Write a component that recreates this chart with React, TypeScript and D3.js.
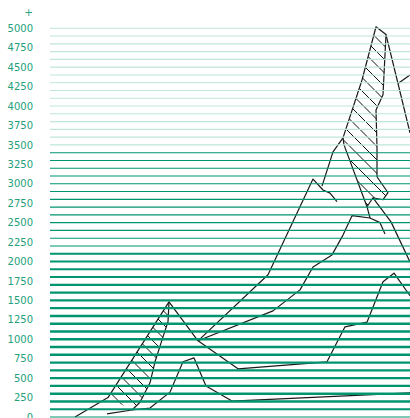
import React from 'react';
import * as d3 from 'd3';

// y-axis tick labels
const yTicks = [0, 250, 500, 750, 1000, 1250, 1500, 1750, 2000, 2250, 2500, 2750, 3000, 3250, 3500, 3750, 4000, 4250, 4500, 4750, 5000];
// horizontal rule values
const ruleValues = [0, 100, 200, 300, 400, 500, 600, 700, 800, 900, 1000, 1100, 1200, 1300, 1400, 1500, 1600, 1700, 1800, 1900, 2000, 2100, 2200, 2300, 2400, 2500, 2600, 2700, 2800, 2900, 3000, 3100, 3200, 3300, 3400, 3500, 3600, 3700, 3800, 3900, 4000, 4100, 4200, 4300, 4400, 4500, 4600, 4700, 4800, 4900, 5000];

// polylines: [x, value]
const outline: [number, number][] = [[25, 0], [58, 250], [119, 1480], [148, 980], [188, 620], [277, 710], [295, 1160], [317, 1220], [333, 1740], [344, 1850], [360, 1560]];
const lowerTrace: [number, number][] = [[57, 40], [82, 90], [100, 115], [120, 320], [133, 710], [144, 760], [156, 400], [182, 205], [360, 310]];
const ridgeB: [number, number][] = [[148, 980], [218, 1830], [263, 3060], [273, 2920], [280, 2880], [287, 2770]];
const ridgeC: [number, number][] = [[148, 980], [223, 1365], [250, 1635], [263, 1930], [282, 2085], [293, 2340], [302, 2590], [320, 2560], [330, 2500], [335, 2355]];
const connector: [number, number][] = [[272, 2970], [283, 3410], [293, 3590]];
const linkC: [number, number][] = [[317, 2705], [320, 2560]];
const descentD: [number, number][] = [[323, 2820], [341, 2510], [360, 1995]];
const longRight: [number, number][] = [[336, 4920], [348, 4290], [360, 3655]];
const shortRight: [number, number][] = [[348, 4290], [360, 4400]];
const lowerHatchEdge: [number, number][] = [[119, 1480], [118, 1225], [113, 1030], [105, 710], [100, 440], [90, 190], [82, 90]];
const lowerHatch: [number, number][] = [[58, 250], [119, 1480], [118, 1225], [113, 1030], [105, 710], [100, 440], [90, 190], [82, 90]];
const upperHatch: [number, number][] = [[326, 5020], [336, 4920], [333, 4145], [326, 3950], [327, 3460], [327, 3090], [338, 2885], [333, 2795], [323, 2820], [317, 2705], [294, 3500], [293, 3590], [312, 4335]];

const W = 410;
const H = 418;
const HATCH_STEP = 13.5;

export default function App() {
  const x = d3.scaleLinear().domain([0, 360]).range([50, 410]);
  const y = d3.scaleLinear().domain([0, 5000]).range([417, 28.3]);
  const line = d3.line<[number, number]>().x(d => x(d[0])).y(d => y(d[1]));
  const poly = (pts: [number, number][]) => line(pts) + 'Z';

  const ruleWidth = (v: number) => {
    if (v >= 2200) return 1.1;
    if (v >= 1800) return 1.9;
    if (v >= 200) return 2.4;
    if (v >= 100) return 1.8;
    return 1.1;
  };
  const ruleColor = (v: number) => (v >= 3500 ? '#bfe6d8' : '#00956f');

  const strokes = [outline, lowerTrace, ridgeB, ridgeC, connector, linkC, descentD, longRight, shortRight, lowerHatchEdge];

  // diagonal "\" hatch lines, offsets along y
  const hatchOffsets = d3.range(-460, 460, HATCH_STEP);
  const hatchLines = (id: string) => (
    <g clipPath={`url(#${id})`}>
      {hatchOffsets.map((c, i) => (
        <line key={i} x1={0} y1={c} x2={420} y2={c + 420} stroke="#111" strokeWidth={1} />
      ))}
    </g>
  );

  return (
    <svg width={W} height={H} style={{ position: 'absolute', left: 0, top: 0, background: '#fff' }}
      fontFamily="'DejaVu Sans', sans-serif">
      <defs>
        <clipPath id="plot">
          <rect x={50} y={0} width={360} height={H} />
        </clipPath>
        <clipPath id="hatchLow">
          <path d={poly(lowerHatch)} />
        </clipPath>
        <clipPath id="hatchUp">
          <path d={poly(upperHatch)} />
        </clipPath>
      </defs>
      <g clipPath="url(#plot)">
        {hatchLines('hatchLow')}
        {hatchLines('hatchUp')}
        <path d={poly(upperHatch)} fill="none" stroke="#1a1a1a" strokeWidth={1.2} strokeLinejoin="round" />
        {strokes.map((s, i) => (
          <path key={i} d={line(s) || ''} fill="none" stroke="#1a1a1a" strokeWidth={1.2} strokeLinejoin="round" />
        ))}
        {ruleValues.map(v => (
          <line key={v} x1={x(0)} x2={x(360)} y1={y(v)} y2={y(v)} stroke={ruleColor(v)} strokeWidth={ruleWidth(v)} />
        ))}
      </g>
      {yTicks.map(t => (
        <text key={t} x={33} y={y(t)} dy="0.36em" textAnchor="end" fontSize={10} fill="#24a07b">{t}</text>
      ))}
      <text x={33} y={y(5200)} dy="0.36em" textAnchor="end" fontSize={10} fill="#24a07b">+</text>
    </svg>
  );
}
